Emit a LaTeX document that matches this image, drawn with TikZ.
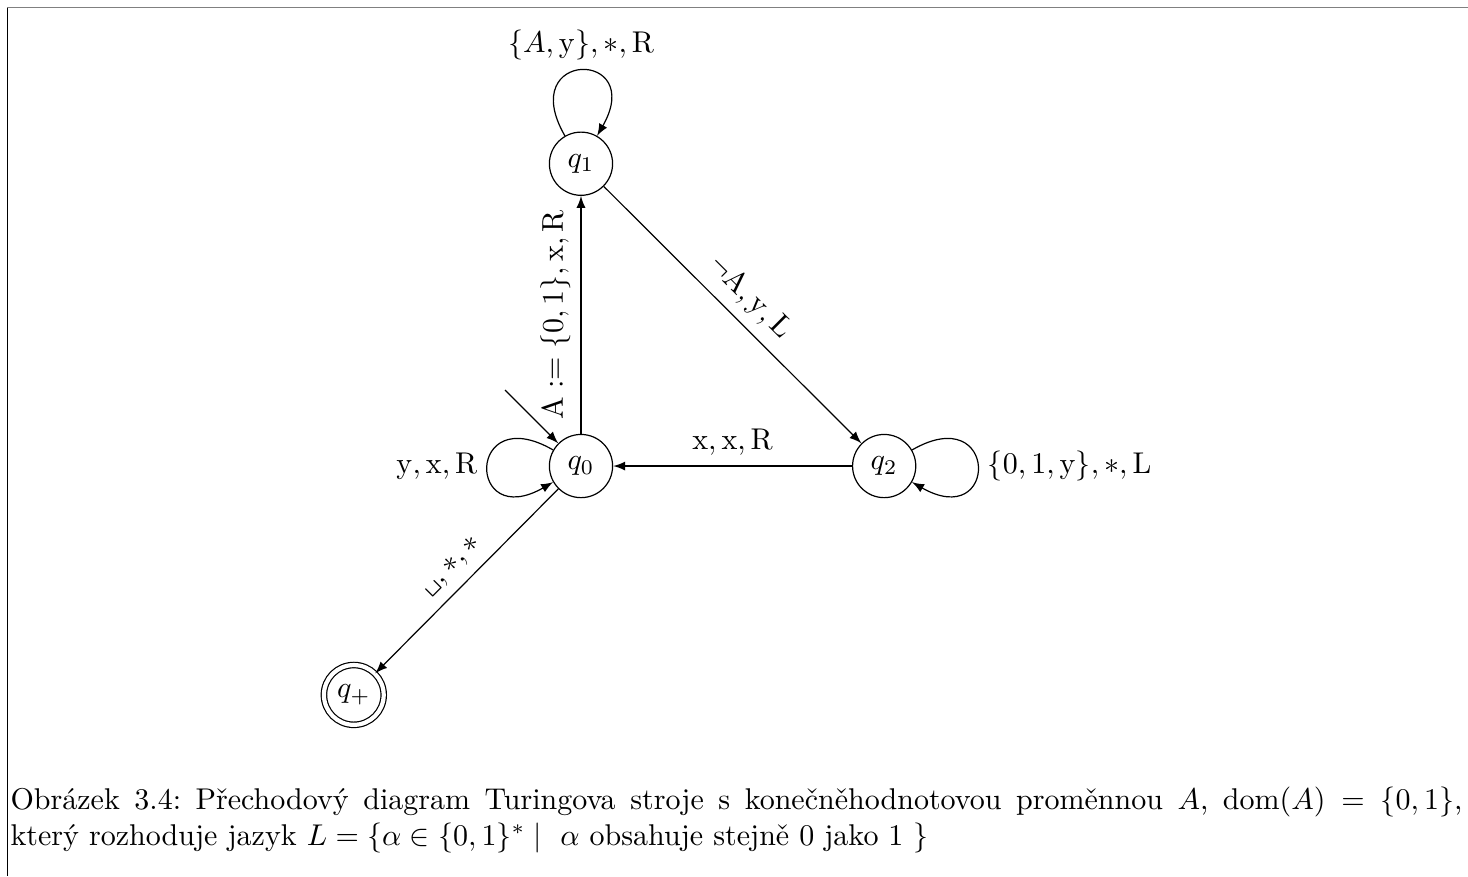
\documentclass[tikz,border=0pt]{standalone}
\usepackage{amsmath, amssymb}
\usepackage{tikz}
\usetikzlibrary{arrows.meta, positioning}

\begin{document}
\begin{tikzpicture}[
    node distance=3.54cm, on grid,
    >=latex,
    state/.style={circle, draw, minimum size=0.74cm, inner sep=0pt},
    accepting/.style={double, double distance=1.4pt, minimum size=0.70cm},
    trans/.style={->},
    selfloop/.style={->, looseness=8, min distance=6mm}
]
\useasboundingbox (-6.803,-4.801) rectangle (10.386,5.457);
% frame of the page
\draw[gray, line width=0.55pt] (-6.716,5.369) -- (10.386,5.369);
\draw[line width=0.55pt] (-6.716,5.369) -- (-6.716,-4.801);

\node (q0) [state] {$q_0$};
\node (q1) [state, above=of q0] {$q_1$};
\node (q2) [state, right=3.55cm of q0] {$q_2$};
\node (qacc) [state, accepting, below left=2.68cm and 2.66cm of q0] {$q_+$};
\coordinate[above left=0.89cm and 0.89cm of q0] (init);

\draw [trans] (init) -- (q0);
\draw [trans] (q0) -- node[sloped, above] {$\mathrm{A} := \{0,1\}, \mathrm{x}, \mathrm{R}$} (q1);
\draw [trans] (q1) -- node[sloped, above] {$\neg\mathrm{A}, \mathrm{y}, \mathrm{L}$} (q2);
\draw [trans] (q2) -- node[above] {$\mathrm{x}, \mathrm{x}, \mathrm{R}$} (q0);
\draw [trans] (q0) -- node[sloped, above] {$\text{\texttt{\textvisiblespace}}, *, *$} (qacc);
\draw [selfloop] (q1) to[out=120, in=60] node[above] {$\{A, \mathrm{y}\}, *, \mathrm{R}$} (q1);
\draw [selfloop] (q0) to[out=150, in=210] node[left] {$\mathrm{y}, \mathrm{x}, \mathrm{R}$} (q0);
\draw [selfloop] (q2) to[out=30, in=-30] node[right] {$\{0, 1, \mathrm{y}\}, *, \mathrm{L}$} (q2);

\node (caption) [anchor=north west, text width=17cm, align=justify, inner sep=0pt] at (-6.686,-3.752)
  {\frenchspacing Obrázek 3.4: Přechodový diagram Turingova stroje s konečněhodnotovou proměnnou $A$, $\mathrm{dom}(A) = \{0,1\}$,\linebreak
   který rozhoduje jazyk $L = \{\alpha \in \{0,1\}^* \mid\ \alpha \text{ obsahuje stejně 0 jako 1 } \}$};
\end{tikzpicture}
\end{document}
